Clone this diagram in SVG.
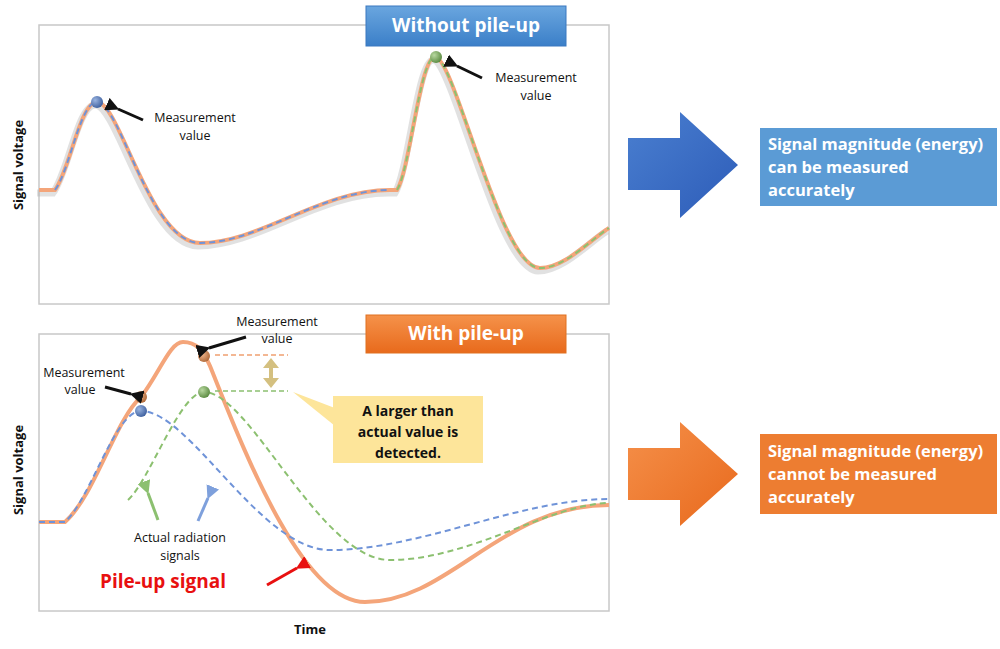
<svg xmlns="http://www.w3.org/2000/svg" width="1000" height="649" viewBox="0 0 1000 649">
<defs>
<linearGradient id="gb" x1="0" y1="0" x2="0" y2="1"><stop offset="0" stop-color="#6aa6df"/><stop offset="1" stop-color="#3b7fc8"/></linearGradient>
<linearGradient id="go" x1="0" y1="0" x2="0" y2="1"><stop offset="0" stop-color="#f5924a"/><stop offset="1" stop-color="#e86a1c"/></linearGradient>
<linearGradient id="ab" x1="0" y1="0" x2="1" y2="1"><stop offset="0" stop-color="#4a7fd0"/><stop offset="1" stop-color="#2d5cb8"/></linearGradient>
<linearGradient id="ao" x1="0" y1="0" x2="1" y2="1"><stop offset="0" stop-color="#f5904a"/><stop offset="1" stop-color="#e8691c"/></linearGradient>
<radialGradient id="db" cx="0.35" cy="0.35" r="0.7"><stop offset="0" stop-color="#9ab4e0"/><stop offset="1" stop-color="#3d5f9e"/></radialGradient>
<radialGradient id="dg" cx="0.35" cy="0.35" r="0.7"><stop offset="0" stop-color="#b8d8a0"/><stop offset="1" stop-color="#5a8a40"/></radialGradient>
<radialGradient id="do" cx="0.35" cy="0.35" r="0.7"><stop offset="0" stop-color="#f0b890"/><stop offset="1" stop-color="#b06a3a"/></radialGradient>
<marker id="mk" viewBox="0 0 10 10" refX="1" refY="5" markerWidth="4.5" markerHeight="4.5" orient="auto-start-reverse" markerUnits="strokeWidth"><path d="M0,5 L10,0 L10,10 z" fill="context-stroke"/></marker>
</defs>
<style>
text{font-family:"Open Sans","Liberation Sans",sans-serif;}
.lbl{font-size:12.5px;fill:#111;text-anchor:middle;}
.ax{font-size:13px;font-weight:bold;fill:#111;}
.hd{font-size:19px;font-weight:bold;fill:#fff;text-anchor:middle;}
.bx{font-size:16.5px;font-weight:bold;fill:#fff;}
.panel{fill:#fff;stroke:#c8c8c8;stroke-width:1.5;}
.ar{stroke-width:3;fill:none;marker-start:url(#mk);}
</style>
<g id="top-panel">
<rect class="panel" x="39" y="25" width="570" height="279"/>
<path d="M39,190 L55,190 C70,170 80,102 97,102 C120,102 150,243 200,243 C260,243 320,190 390,190 L397,190 C410,170 420,57 435,57 C455,57 500,268 540,268 C565,268 590,240 609,228" fill="none" stroke="#aaa" stroke-opacity="0.35" stroke-width="7" transform="translate(-2,3)"/>
<path d="M39,190 L55,190 C70,170 80,102 97,102 C120,102 150,243 200,243 C260,243 320,190 390,190 L397,190 C410,170 420,57 435,57 C455,57 500,268 540,268 C565,268 590,240 609,228" fill="none" stroke="#f4a57a" stroke-width="4"/>
<path d="M55,190 C70,170 80,102 97,102 C120,102 150,243 200,243 C260,243 320,190 390,190" fill="none" stroke="#6f93d8" stroke-width="2" stroke-dasharray="6,4"/>
<path d="M397,190 C410,170 420,57 435,57 C455,57 500,268 540,268 C565,268 590,240 609,228" fill="none" stroke="#8cc070" stroke-width="2" stroke-dasharray="6,4"/>
<circle cx="97" cy="102" r="6" fill="url(#db)"/>
<circle cx="436" cy="57" r="6" fill="url(#dg)"/>
<line class="ar" x1="118" y1="109" x2="143" y2="120" stroke="#111"/>
<line class="ar" x1="457" y1="66" x2="482" y2="78" stroke="#111"/>
<text class="lbl" x="195" y="122">Measurement</text><text class="lbl" x="195" y="140">value</text>
<text class="lbl" x="536" y="82">Measurement</text><text class="lbl" x="536" y="100">value</text>
<text class="ax" transform="translate(23,165) rotate(-90)" text-anchor="middle">Signal voltage</text>
<rect x="366" y="6" width="200" height="40" fill="url(#gb)" stroke="#3a78c0"/>
<text class="hd" x="466" y="32">Without pile-up</text>
</g>
<g id="bottom-panel">
<rect class="panel" x="39" y="334" width="570" height="277"/>
<path d="M39,522 L65,522 C95,495 115,420 141,397 C160,372 170,342 183,342 C196,342 203,350 210,366 C240,440 300,602 365,602 C450,602 500,505 609,505" fill="none" stroke="#f4a57a" stroke-width="4"/>
<path d="M39,522 L65,522 C90,500 115,411 141,411 C190,411 260,550 330,550 C420,550 520,499 609,499" fill="none" stroke="#6f93d8" stroke-width="2" stroke-dasharray="6,4"/>
<path d="M128,500 C150,480 180,392 204,392 C250,392 320,560 390,560 C470,560 550,504 609,503" fill="none" stroke="#8cc070" stroke-width="2" stroke-dasharray="6,4"/>
<line x1="215" y1="355" x2="288" y2="355" stroke="#f0a070" stroke-width="1.5" stroke-dasharray="5,3"/>
<line x1="215" y1="391" x2="288" y2="391" stroke="#8cc070" stroke-width="1.5" stroke-dasharray="5,3"/>
<path d="M271,358 L263,368 L269,368 L269,378 L263,378 L271,388 L279,378 L273,378 L273,368 L279,368 z" fill="#d4c080"/>
<circle cx="141" cy="411" r="6" fill="url(#db)"/>
<circle cx="141" cy="397" r="6" fill="url(#do)"/>
<circle cx="204" cy="392" r="6" fill="url(#dg)"/>
<circle cx="204" cy="356" r="6" fill="url(#do)"/>
<line class="ar" x1="209" y1="348" x2="246" y2="337" stroke="#111"/>
<line class="ar" x1="131" y1="394" x2="105" y2="387" stroke="#111"/>
<line class="ar" x1="148" y1="493" x2="158" y2="520" stroke="#8cc070"/>
<line class="ar" x1="208" y1="498" x2="198" y2="521" stroke="#7ea0dc"/>
<line class="ar" x1="297" y1="568" x2="267" y2="585" stroke="#e81010"/>
<path d="M293,392 L340,410 L340,430 z" fill="#fde59a"/>
<rect x="333" y="396" width="150" height="67" fill="#fde59a"/>
<text x="408" y="416" text-anchor="middle" font-size="14" font-weight="bold" fill="#111">A larger than</text>
<text x="408" y="437" text-anchor="middle" font-size="14" font-weight="bold" fill="#111">actual value is</text>
<text x="408" y="458" text-anchor="middle" font-size="14" font-weight="bold" fill="#111">detected.</text>
<text class="lbl" x="277" y="326">Measurement</text><text class="lbl" x="277" y="343">value</text>
<text class="lbl" x="84" y="377">Measurement</text><text class="lbl" x="80" y="394">value</text>
<text class="lbl" x="180" y="542">Actual radiation</text><text class="lbl" x="180" y="560">signals</text>
<text x="163" y="588" text-anchor="middle" font-size="19" font-weight="bold" fill="#e81010">Pile-up signal</text>
<text class="ax" x="310" y="634" text-anchor="middle">Time</text>
<text class="ax" transform="translate(23,470) rotate(-90)" text-anchor="middle">Signal voltage</text>
<rect x="366" y="315" width="200" height="38" fill="url(#go)" stroke="#e07020"/>
<text class="hd" x="466" y="340">With pile-up</text>
</g>
<g id="result-good">
<path d="M628,138 L680,138 L680,112 L738,165 L680,218 L680,190 L628,190 z" fill="url(#ab)"/>
<rect x="760" y="128" width="237" height="78" fill="#5b9bd5"/>
<text class="bx" x="768" y="150">Signal magnitude (energy)</text>
<text class="bx" x="768" y="173">can be measured</text>
<text class="bx" x="768" y="196">accurately</text>
</g>
<g id="result-bad">
<path d="M628,448 L680,448 L680,422 L738,474 L680,526 L680,500 L628,500 z" fill="url(#ao)"/>
<rect x="760" y="434" width="237" height="80" fill="#ed7d31"/>
<text class="bx" x="768" y="457">Signal magnitude (energy)</text>
<text class="bx" x="768" y="480">cannot be measured</text>
<text class="bx" x="768" y="503">accurately</text>
</g>
</svg>
